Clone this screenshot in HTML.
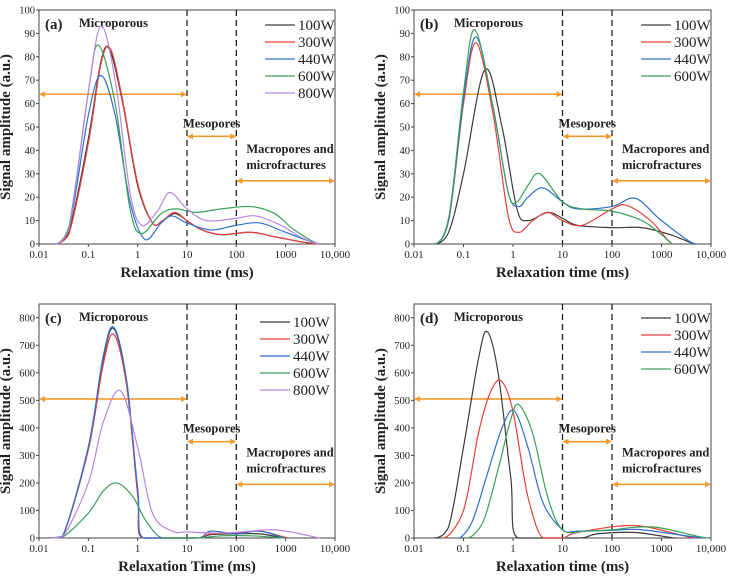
<!DOCTYPE html>
<html><head><meta charset="utf-8"><style>
html,body{margin:0;padding:0;background:#fff;}
svg{display:block;font-family:"Liberation Serif",serif;}
</style></head><body>
<svg id="chart" width="729" height="581" viewBox="0 0 729 581" xmlns="http://www.w3.org/2000/svg"></svg>
<script>
const xTickValues=[0.01,0.1,1,10,100,1000,10000];
const xTickLabels=["0.01","0.1","1","10","100","1000","10,000"];
const seriesNames5=["100W","300W","440W","600W","800W"];
const seriesNames4=["100W","300W","440W","600W"];
const colors=["#3a3a3a","#e8403a","#2f6fd0","#3aa05a","#b886e0"];

// panel (a)
const a100x=[0.02,0.04,0.1,0.18,0.27,0.5,1,2,3.2,5.6,10,20,50,200,630,2000,5000];
const a100y=[0,5,45,78,83,60,25,9,10,13,10,6,4,5,3,1,0];
const a300x=[0.02,0.04,0.1,0.18,0.28,0.5,1,2,3.2,5.6,10,20,50,200,630,2000,5000];
const a300y=[0,4,43,77,83.5,61,26,9,10,13.5,10,6,4,5,3,1,0];
const a440x=[0.02,0.04,0.1,0.18,0.35,0.7,1.4,3,5,10,30,100,300,1000,5000];
const a440y=[0,6,55,72,55,18,2,9,12,9,6,8,9,5,0];
const a600x=[0.02,0.04,0.1,0.16,0.35,0.7,1.2,3,6,15,50,200,600,1500,5000];
const a600y=[0,7,65,85,60,15,4.5,13,15,13.5,15,16,13,6,0];
const a800x=[0.02,0.04,0.1,0.18,0.35,0.7,1.2,2.5,4.5,10,25,100,250,800,2000,5000];
const a800y=[0,6,65,93,70,22,8,14,22,15,10,11,12,8,3,0];

// panel (b)
const b100x=[0.025,0.05,0.1,0.27,0.6,1.2,2,5,10,20,100,400,1500,5000];
const b100y=[0,5,30,74.5,50,15,10,13.5,11,8,7,7,4,0];
const b300x=[0.025,0.05,0.1,0.18,0.4,0.8,1.3,2.5,5,10,25,100,200,600,1700];
const b300y=[0,10,60,86,55,12,5,10,13.5,10,8,15,16.5,10,0];
const b440x=[0.025,0.05,0.1,0.18,0.4,0.8,1.3,2,4,10,20,100,300,1000,5000];
const b440y=[0,10,62,88.5,58,22,16,20,24,18,15,16,19.5,10,0];
const b600x=[0.025,0.05,0.1,0.17,0.4,0.8,1.2,2,3.5,10,25,100,400,1000,1700];
const b600y=[0,11,65,91.5,58,22,18,25,30,18,15,14,10,4,0];

// panel (c)
const c100x=[0.015,0.03,0.1,0.2,0.33,0.6,1,1.35,15,30,100,300,1000];
const c100y=[0,5,330,650,760,560,160,0,0,12,15,15,0];
const c300x=[0.015,0.03,0.1,0.2,0.33,0.6,1,1.35,15,30,100,300,1200];
const c300y=[0,5,320,630,740,550,160,0,0,15,18,25,0];
const c440x=[0.015,0.03,0.1,0.2,0.33,0.6,1,1.4,15,30,100,300,1000];
const c440y=[0,6,330,660,765,570,180,0,0,25,15,25,0];
const c600x=[0.015,0.03,0.1,0.2,0.38,0.8,1.5,3.5,15,50,200,1000];
const c600y=[0,3,90,170,200,150,60,0,0,8,8,0];
const c800x=[0.015,0.03,0.1,0.2,0.45,1,2,5,10,50,200,600,2000,5000];
const c800y=[0,3,200,420,535,330,90,25,22,18,25,30,15,0];

// panel (d)
const d100x=[0.025,0.05,0.1,0.2,0.3,0.5,0.9,1.35,20,50,300,2000];
const d100y=[0,40,330,650,750,600,220,0,0,15,20,0];
const d300x=[0.04,0.1,0.2,0.35,0.58,1,2,4.3,10,20,300,5000];
const d300y=[0,100,380,530,570,460,150,0,0,20,45,0];
const d440x=[0.08,0.15,0.3,0.6,1.05,2,4,10,20,100,400,8000];
const d440y=[0,60,230,400,462,330,130,30,25,28,30,0];
const d600x=[0.12,0.25,0.5,0.9,1.3,2.5,5,10,30,100,700,9000];
const d600y=[0,60,250,430,485,380,150,30,25,30,40,0];

const panels=[
 {id:"a",L:39,R:335,T:10,B:244,ymax:100,ystep:10,xt:"Relaxation time (ms)",
  xs:[a100x,a300x,a440x,a600x,a800x],ys:[a100y,a300y,a440y,a600y,a800y],names:seriesNames5,
  arrows:[64,46,27],leg:[265,25]},
 {id:"b",L:414,R:711,T:10,B:244,ymax:100,ystep:10,xt:"Relaxation time (ms)",
  xs:[b100x,b300x,b440x,b600x],ys:[b100y,b300y,b440y,b600y],names:seriesNames4,
  arrows:[64,46,27],leg:[641,25]},
 {id:"c",L:39,R:335,T:304,B:538,ymax:850,ystep:100,xt:"Relaxation Time (ms)",
  xs:[c100x,c300x,c440x,c600x,c800x],ys:[c100y,c300y,c440y,c600y,c800y],names:seriesNames5,
  arrows:[505,350,195],leg:[260,322]},
 {id:"d",L:414,R:711,T:304,B:538,ymax:850,ystep:100,xt:"Relaxation time (ms)",
  xs:[d100x,d300x,d440x,d600x],ys:[d100y,d300y,d440y,d600y],names:seriesNames4,
  arrows:[505,350,195],leg:[641,318]}
];
const NS="http://www.w3.org/2000/svg";
const svg=document.getElementById("chart");
function mk(tag,attrs,parent,text){const e=document.createElementNS(NS,tag);for(const k in attrs)e.setAttribute(k,attrs[k]);if(text!==undefined)e.textContent=text;(parent||svg).appendChild(e);return e;}
function pathFrom(pts,B){let d="M"+pts[0][0].toFixed(2)+","+pts[0][1].toFixed(2);
 const cl=v=>Math.min(v,B);
 for(let i=0;i<pts.length-1;i++){const p0=pts[Math.max(0,i-1)],p1=pts[i],p2=pts[i+1],p3=pts[Math.min(pts.length-1,i+2)];
  let c1y=p1[1]+(p2[1]-p0[1])/6,c2y=p2[1]-(p3[1]-p1[1])/6;
  if(p1[1]>=B-0.01)c1y=B; if(p2[1]>=B-0.01)c2y=B;
  const c1=[p1[0]+(p2[0]-p0[0])/6,cl(c1y)],c2=[p2[0]-(p3[0]-p1[0])/6,cl(c2y)];
  d+=" C"+c1[0].toFixed(2)+","+c1[1].toFixed(2)+" "+c2[0].toFixed(2)+","+c2[1].toFixed(2)+" "+p2[0].toFixed(2)+","+p2[1].toFixed(2);}
 return d;}
function arrow(g,x1,x2,y){
 const l=mk("line",{x1:x1+2,x2:x2-2,y1:y,y2:y,stroke:"#f39a2e","stroke-width":1.6},g);
 
 
 mk("path",{d:`M${x1},${y} l6,-3 v6 z M${x2},${y} l-6,-3 v6 z`,fill:"#f39a2e"},g);
}
panels.forEach(p=>{
 const g=mk("g",{});
 
 
 const xS=v=>p.L+(Math.log10(v)+2)/6*(p.R-p.L);
 const yS=v=>p.B-v/p.ymax*(p.B-p.T);
 mk("rect",{x:p.L,y:p.T,width:p.R-p.L,height:p.B-p.T,fill:"none",stroke:"#444","stroke-width":1},g);
 xTickValues.forEach((v,i)=>{const x=xS(v);
  mk("line",{x1:x,x2:x,y1:p.B,y2:p.B+3,stroke:"#444"},g);
  const t=mk("text",{x:x,y:p.B+14,"font-size":11,"text-anchor":"middle",fill:"#222"},g,xTickLabels[i]);
  
  });
 for(let v=0;v<=p.ymax;v+=p.ystep){const y=yS(v);
  mk("line",{x1:p.L-3,x2:p.L,y1:y,y2:y,stroke:"#444"},g);
  const t=mk("text",{x:p.L-4,y:y+3.5,"font-size":10.5,"text-anchor":"end",fill:"#222"},g,String(v));
  
  }
 [10,100].forEach(v=>{const l=mk("line",{x1:xS(v),x2:xS(v),y1:p.T,y2:p.B,stroke:"#222","stroke-width":1.3,"stroke-dasharray":"6,4"},g);
  
  });
 const xt=mk("text",{x:(p.L+p.R)/2,y:p.B+33,"font-size":15,"font-weight":"bold","text-anchor":"middle",fill:"#222"},g,p.xt);
 
 
 const cy=(p.T+p.B)/2;
 const yt=mk("text",{x:p.L-29,y:cy,"font-size":15,"font-weight":"bold","text-anchor":"middle",fill:"#222",transform:`rotate(-90 ${p.L-29} ${cy})`},g,"Signal amplitude (a.u.)");
 
 
 const pl=mk("text",{x:p.L+6,y:p.T+19,"font-size":15,"font-weight":"bold",fill:"#222"},g,"("+p.id+")");
 
 
 const mi=mk("text",{x:p.L+40,y:p.T+17,"font-size":12.5,"font-weight":"bold",fill:"#222"},g,"Microporous");
 
 
 arrow(g,p.L,xS(10),yS(p.arrows[0]));
 arrow(g,xS(10),xS(100),yS(p.arrows[1]));
 arrow(g,xS(100),p.R,yS(p.arrows[2]));
 const my=yS(p.arrows[1])-9;
 const me=mk("text",{x:(xS(10)+xS(100))/2,y:my,"font-size":12.5,"font-weight":"bold","text-anchor":"middle",fill:"#222"},g,"Mesopores");
 
 
 const ay=yS(p.arrows[2]);
 const m1=mk("text",{x:xS(100)+10,y:ay-28,"font-size":12.5,"font-weight":"bold",fill:"#222"},g,"Macropores and");
 
 
 const m2=mk("text",{x:xS(100)+10,y:ay-12,"font-size":12.5,"font-weight":"bold",fill:"#222"},g,"microfractures");
 
 
 p.xs.forEach((xa,si)=>{
  const pts=xa.map((v,i)=>[xS(v),yS(p.ys[si][i])]);
  const c=mk("path",{d:pathFrom(pts,p.B),fill:"none",stroke:colors[si],"stroke-width":1.2},g);
  
  
  const ly=p.leg[1]+si*17;
  mk("line",{x1:p.leg[0],x2:p.leg[0]+30,y1:ly,y2:ly,stroke:colors[si],"stroke-width":1.2},g);
  const lt=mk("text",{x:p.leg[0]+33,y:ly+5,"font-size":15,fill:"#222"},g,p.names[si]);
  
  
 });
});
</script>
</body></html>
